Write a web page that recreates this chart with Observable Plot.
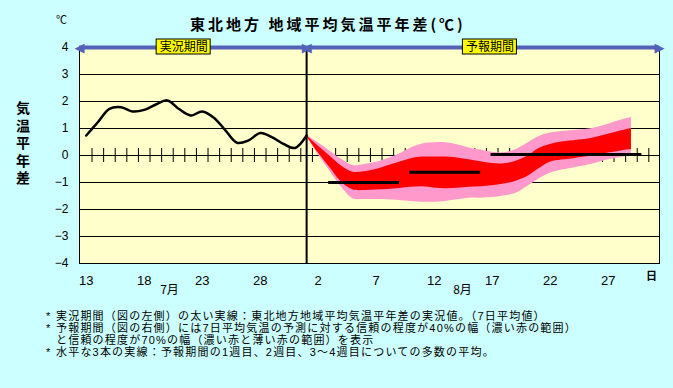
<!DOCTYPE html>
<html><head><meta charset="utf-8">
<script src="https://cdn.jsdelivr.net/npm/d3@7"></script>
<script src="https://cdn.jsdelivr.net/npm/@observablehq/plot@0.6"></script>
<style>
body{margin:0;background:#ccffff;}
#wrap{position:relative;width:673px;height:388px;background:#ccffff;overflow:hidden;font-family:"Noto Sans CJK JP",sans-serif;color:#000;}
#chart{position:absolute;left:0;top:0;}
#title{position:absolute;left:190px;top:16px;font-size:15px;line-height:15px;font-weight:bold;letter-spacing:3px;white-space:nowrap;}
#unit{position:absolute;left:56px;top:14px;font-size:11px;line-height:11px;}
#ytitle{position:absolute;left:15px;top:100px;font-family:"Liberation Sans","Noto Sans CJK JP",sans-serif;font-size:14px;line-height:17.5px;font-weight:bold;width:16px;text-align:center;}
#ytitle div{height:17.5px;}
#notes{position:absolute;left:46px;top:310px;font-family:"Liberation Sans","Noto Sans CJK JP",sans-serif;font-size:11px;line-height:12px;letter-spacing:1.2px;white-space:nowrap;}
#notes div{height:12px;}
#notes .ind{padding-left:10px;}
#notes .star{display:inline-block;width:10px;letter-spacing:0;}
</style>
</head><body>
<div id="wrap">
  <div id="chart"></div>
  <div id="title">東北地方 地域平均気温平年差(℃)</div>
  <div id="unit">℃</div>
  <div id="ytitle"><div>気</div><div>温</div><div>平</div><div>年</div><div>差</div></div>
  <div id="notes"></div>
</div>
<script>
// ---- data ----
const xDomain = [12.42, 62.42];            // day numbers (July 13 = 13, Aug 1 = 32)
const yDomain = [-4, 4];
const yTicks = [-4, -3, -2, -1, 0, 1, 2, 3, 4];
const gridValues = [-3, -2, -1, 0, 1, 2, 3];
const xTickDays = [13, 18, 23, 28, 33, 38, 43, 48, 53, 58];
const xTickLabels = ["13", "18", "23", "28", "2", "7", "12", "17", "22", "27"];
const zeroTickDays = d3.range(13.5, 62, 1);
const monthLabels = [{day: 20.18, label: "7月"}, {day: 45.44, label: "8月"}];
const dayUnit = [{day: 61.73, label: "日"}];

const obsDays = d3.range(13, 33);
const obsValues = [0.74, 1.23, 1.73, 1.79, 1.63, 1.69, 1.89, 2.04, 1.72, 1.48,
                   1.63, 1.40, 0.93, 0.47, 0.56, 0.83, 0.68, 0.43, 0.28, 0.74];

const fcDays = d3.range(32, 61);
const pinkHi = [0.76, 0.47, 0.17, -0.14, -0.37, -0.33, -0.25, -0.12, 0.06, 0.28,
                0.43, 0.47, 0.47, 0.40, 0.28, 0.20, 0.12, 0.10, 0.21, 0.44,
                0.69, 0.83, 0.89, 0.93, 0.96, 1.04, 1.16, 1.30, 1.41];
const redHi  = [0.74, 0.35, -0.02, -0.39, -0.62, -0.60, -0.52, -0.38, -0.25, -0.12,
                -0.06, -0.06, -0.06, -0.09, -0.16, -0.23, -0.30, -0.31, -0.22, -0.04,
                0.25, 0.41, 0.50, 0.55, 0.59, 0.68, 0.79, 0.90, 1.00];
const redLo  = [0.72, 0.10, -0.44, -0.98, -1.27, -1.30, -1.28, -1.26, -1.22, -1.18,
                -1.16, -1.20, -1.23, -1.21, -1.18, -1.16, -1.12, -1.06, -0.96, -0.79,
                -0.50, -0.25, -0.17, -0.12, -0.06, 0.00, 0.09, 0.16, 0.22];
const pinkLo = [0.70, 0.03, -0.57, -1.17, -1.60, -1.63, -1.63, -1.64, -1.67, -1.70,
                -1.73, -1.73, -1.70, -1.64, -1.58, -1.58, -1.56, -1.50, -1.41, -1.16,
                -0.88, -0.66, -0.54, -0.46, -0.38, -0.28, -0.16, -0.08, 0.00];

const weekStart = [33.9, 40.9, 47.9];
const weekEnd   = [40.0, 47.0, 60.9];
const weekMean  = [-1.00, -0.62, 0.04];

const periodBoundary = [32];
const periodNames = ["実況期間", "予報期間"];
const periodStart = [xDomain[0], 32];
const periodEnd   = [32, xDomain[1]];
const periodLabelAt = [21.4, 47.8];

const notes = [
  {star: true,  text: "実況期間（図の左側）の太い実線：東北地方地域平均気温平年差の実況値。（7日平均値）"},
  {star: true,  text: "予報期間（図の右側）には7日平均気温の予測に対する信頼の程度が40%の幅（濃い赤の範囲）"},
  {star: false, text: "と信頼の程度が70%の幅（濃い赤と薄い赤の範囲）を表示"},
  {star: true,  text: "水平な3本の実線：予報期間の1週目、2週目、3～4週目についての多数の平均。"}
];

// ---- tables ----
const observed = obsDays.map((d, i) => ({day: d, value: obsValues[i]}));
const forecast = fcDays.map((d, i) => ({day: d, pHi: pinkHi[i], rHi: redHi[i], rLo: redLo[i], pLo: pinkLo[i]}));
const weeks = weekMean.map((v, i) => ({start: weekStart[i], end: weekEnd[i], value: v}));
const periods = periodNames.map((n, i) => ({name: n, start: periodStart[i], end: periodEnd[i], labelAt: periodLabelAt[i]}));
const heads = periods.flatMap(p => [
  {x: p.start, glyph: "◀", anchor: "start"},
  {x: p.end, glyph: "▶", anchor: "end"}
]);

const BLUE = "#5262b8";
const yTop = yDomain[1];

const plot = Plot.plot({
  width: 673, height: 388,
  marginLeft: 79, marginRight: 14, marginTop: 47, marginBottom: 125,
  style: {background: "transparent", fontFamily: "'Liberation Sans', Arial, sans-serif", fontSize: "12px", color: "#000"},
  x: {domain: xDomain},
  y: {domain: yDomain},
  marks: [
    Plot.frame({fill: "#ffffcc"}),
    Plot.ruleY(gridValues, {stroke: "#000", strokeWidth: 1}),
    Plot.ruleX(zeroTickDays, {y1: -0.26, y2: 0.26, stroke: "#000", strokeWidth: 1}),
    Plot.areaY(forecast, {x: "day", y1: "pLo", y2: "pHi", fill: "#ff99cc", curve: "catmull-rom"}),
    Plot.areaY(forecast, {x: "day", y1: "rLo", y2: "rHi", fill: "#ff0000", curve: "catmull-rom"}),
    Plot.ruleX(periodBoundary, {stroke: "#000", strokeWidth: 2}),
    Plot.line(observed, {x: "day", y: "value", stroke: "#000", strokeWidth: 2.5, curve: "catmull-rom"}),
    Plot.ruleY(weeks, {y: "value", x1: "start", x2: "end", stroke: "#000", strokeWidth: 3}),
    Plot.frame({stroke: "#000"}),
    Plot.ruleY(periods, {y: () => yTop, x1: "start", x2: "end", stroke: BLUE, strokeWidth: 4}),
    Plot.text(heads, {x: "x", y: () => yTop, text: "glyph", textAnchor: "anchor", fill: BLUE, fontSize: 13, fontFamily: "DejaVu Sans", lineAnchor: "middle"}),
    Plot.rect(periods, {x1: "labelAt", x2: "labelAt", y1: () => yTop, y2: () => yTop,
      insetLeft: -27, insetRight: -27, insetTop: -8, insetBottom: -7, fill: "#ffff00", stroke: "#000"}),
    Plot.text(periods, {x: "labelAt", y: () => yTop, text: "name", fontSize: 12, fontFamily: "'Noto Sans CJK JP'", fill: "#000", lineAnchor: "middle", dy: -0.5}),
    Plot.axisY({ticks: yTicks, tickSize: 0, tickPadding: 11, fontSize: 12, label: null,
      tickFormat: d => d < 0 ? "−" + Math.abs(d) : String(d)}),
    Plot.axisX({ticks: xTickDays, tickSize: 0, tickPadding: 12, fontSize: 13, label: null,
      tickFormat: d => xTickLabels[xTickDays.indexOf(d)]}),
    Plot.text(monthLabels, {x: "day", text: "label", frameAnchor: "bottom", dy: 30, fontSize: 12, fontFamily: "'Noto Sans CJK JP'", fill: "#000"}),
    Plot.text(dayUnit, {x: "day", text: "label", frameAnchor: "bottom", dy: 16, fontSize: 11, fontWeight: "bold", fontFamily: "'Noto Sans CJK JP'", fill: "#000"})
  ]
});
document.getElementById("chart").appendChild(plot);

const notesEl = document.getElementById("notes");
for (const n of notes) {
  const div = document.createElement("div");
  if (n.star) {
    const s = document.createElement("span");
    s.className = "star"; s.textContent = "*";
    div.appendChild(s);
    div.appendChild(document.createTextNode(n.text));
  } else {
    div.className = "ind";
    div.textContent = n.text;
  }
  notesEl.appendChild(div);
}
</script>
</body></html>
